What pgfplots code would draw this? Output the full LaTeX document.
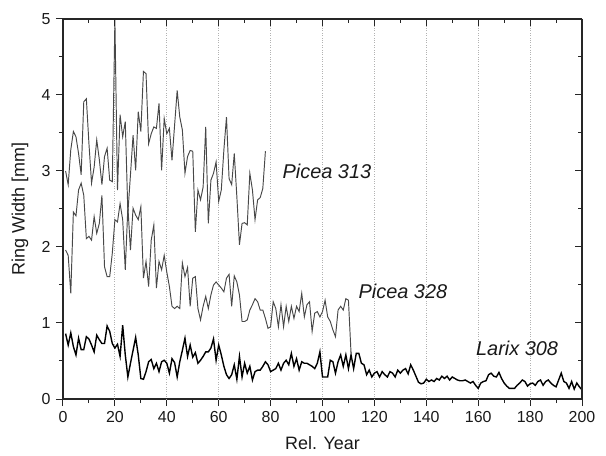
\documentclass[border=0pt]{standalone}
\usepackage{pgfplots}
\pgfplotsset{compat=1.18}
\usepackage{fontspec}
\setmainfont{Liberation Sans}
\definecolor{piceagray}{HTML}{484848}
\begin{document}
\begin{tikzpicture}
\pgfplotsset{
  base/.style={
    scale only axis, width=519bp, height=380bp,
    xmin=0, xmax=200, ymin=0, ymax=5,
    xtick={0,20,...,200}, minor x tick num=1,
    ytick={0,1,2,3,4,5}, minor y tick num=1,
    major tick length=7bp, minor tick length=4bp,
    axis line style={-, line width=1.2bp, black!85},
    every tick/.style={line width=1bp, black!85},
    /pgf/number format/assume math mode=true,
    tick label style={font=\fontsize{16}{17}\selectfont, black!90},
    clip=false,
  }
}
\begin{axis}[base,
  axis x line*=bottom, axis y line*=left, tick align=outside,
  extra x ticks={20,40,...,180}, extra x tick labels={},
  extra x tick style={grid=major, major tick length=0pt},
  grid style={dotted, black!30, line width=0.8bp},
  xlabel={Rel. Year}, ylabel={Ring Width [mm]},
  every axis x label/.style={at={(axis description cs:0.5,-0.1158)}, anchor=center, font=\fontsize{18}{20}\selectfont, black!90},
  every axis y label/.style={at={(axis description cs:-0.083,0.5)}, rotate=90, anchor=center, font=\fontsize{18}{20}\selectfont, black!90},
  xticklabel style={yshift=-2bp},
  yticklabel style={xshift=-2bp},
]
% Picea 313
\addplot[piceagray, line width=0.95bp] coordinates {
(1,3.00)(2,2.82)(3,3.28)(4,3.52)(5,3.45)(6,3.23)(7,2.95)(8,3.91)(9,3.95)(10,3.36)
(11,2.84)(12,3.05)(13,3.41)(14,3.15)(15,2.82)(16,3.19)(17,3.30)(18,2.88)(19,2.86)(20,4.99)
(21,2.75)(22,3.74)(23,3.45)(24,3.65)(25,2.45)(26,2.95)(27,3.47)(28,3.01)(29,3.78)(30,3.52)
(31,4.31)(32,4.28)(33,3.36)(34,3.49)(35,3.58)(36,3.56)(37,3.89)(38,3.01)(39,3.69)(40,3.49)
(41,3.56)(42,3.14)(43,3.60)(44,4.06)(45,3.71)(46,3.54)(47,2.97)(48,3.19)(49,3.27)(50,3.26)
(51,2.20)(52,2.75)(53,2.62)(54,2.79)(55,3.58)(56,2.31)(57,2.88)(58,2.97)(59,3.12)(60,2.60)
(61,2.75)(62,3.28)(63,3.71)(64,2.90)(65,2.82)(66,3.23)(67,2.66)(68,2.03)(69,2.31)(70,2.32)
(71,2.29)(72,2.97)(73,2.75)(74,2.36)(75,2.62)(76,2.65)(77,2.77)(78,3.26)
};
% Picea 328
\addplot[piceagray, line width=0.95bp] coordinates {
(1,1.96)(2,1.89)(3,1.39)(4,2.46)(5,2.41)(6,2.75)(7,2.84)(8,2.68)(9,2.11)(10,2.14)
(11,2.09)(12,2.40)(13,2.18)(14,2.31)(15,2.68)(16,1.74)(17,1.61)(18,1.61)(19,1.92)(20,2.36)
(21,2.33)(22,2.57)(23,2.36)(24,1.70)(25,2.53)(26,1.96)(27,2.51)(28,2.42)(29,2.36)(30,2.53)
(31,1.59)(32,1.81)(33,1.48)(34,2.09)(35,2.29)(36,1.46)(37,1.81)(38,1.70)(39,1.89)(40,1.67)
(41,1.48)(42,1.22)(43,1.19)(44,1.22)(45,1.19)(46,1.79)(47,1.61)(48,1.73)(49,1.22)(50,1.59)
(51,1.61)(52,1.19)(53,1.04)(54,1.22)(55,1.35)(56,1.19)(57,1.37)(58,1.50)(59,1.54)(60,1.50)
(61,1.46)(62,1.41)(63,1.59)(64,1.64)(65,1.22)(66,1.62)(67,1.54)(68,1.37)(69,1.02)(70,1.02)
(71,1.04)(72,1.17)(73,1.24)(74,1.32)(75,1.28)(76,1.17)(77,1.17)(78,1.06)(79,0.93)(80,0.95)
(81,1.28)(82,1.19)(83,0.95)(84,1.24)(85,0.95)(86,1.22)(87,1.02)(88,1.22)(89,1.06)(90,1.22)
(91,1.15)(92,1.39)(93,1.08)(94,1.24)(95,1.28)(96,0.89)(97,1.13)(98,1.15)(99,1.08)(100,1.15)
(101,1.30)(102,1.08)(103,1.02)(104,0.91)(105,0.82)(106,1.17)(107,1.22)(108,1.17)(109,1.32)(110,1.30)
(111,0.60)
};
% Larix 308
\addplot[black, line width=1.4bp] coordinates {
(1,0.86)(2,0.71)(3,0.87)(4,0.69)(5,0.58)(6,0.80)(7,0.65)(8,0.65)(9,0.82)(10,0.79)
(11,0.71)(12,0.62)(13,0.84)(14,0.78)(15,0.73)(16,0.73)(17,0.96)(18,0.89)(19,0.73)(20,0.67)
(21,0.72)(22,0.56)(23,0.97)(24,0.58)(25,0.29)(26,0.47)(27,0.64)(28,0.81)(29,0.58)(30,0.27)
(31,0.26)(32,0.36)(33,0.49)(34,0.52)(35,0.40)(36,0.47)(37,0.36)(38,0.49)(39,0.51)(40,0.47)
(41,0.34)(42,0.53)(43,0.48)(44,0.29)(45,0.49)(46,0.64)(47,0.80)(48,0.56)(49,0.71)(50,0.55)
(51,0.61)(52,0.47)(53,0.51)(54,0.56)(55,0.62)(56,0.62)(57,0.67)(58,0.79)(59,0.51)(60,0.71)
(61,0.58)(62,0.43)(63,0.32)(64,0.27)(65,0.32)(66,0.45)(67,0.26)(68,0.56)(69,0.29)(70,0.47)
(71,0.34)(72,0.43)(73,0.25)(74,0.36)(75,0.38)(76,0.38)(77,0.43)(78,0.49)(79,0.45)(80,0.36)
(81,0.38)(82,0.40)(83,0.47)(84,0.38)(85,0.47)(86,0.51)(87,0.45)(88,0.60)(89,0.43)(90,0.53)
(91,0.38)(92,0.49)(93,0.47)(94,0.47)(95,0.45)(96,0.43)(97,0.40)(98,0.47)(99,0.62)(100,0.29)
(101,0.29)(102,0.29)(103,0.51)(104,0.49)(105,0.34)(106,0.49)(107,0.58)(108,0.43)(109,0.58)(110,0.40)
(111,0.58)(112,0.40)(113,0.60)(114,0.60)(115,0.47)(116,0.45)(117,0.32)(118,0.38)(119,0.29)(120,0.34)
(121,0.36)(122,0.29)(123,0.36)(124,0.32)(125,0.29)(126,0.36)(127,0.34)(128,0.29)(129,0.38)(130,0.34)
(131,0.38)(132,0.40)(133,0.33)(134,0.45)(135,0.38)(136,0.30)(137,0.22)(138,0.20)(139,0.21)(140,0.26)
(141,0.23)(142,0.25)(143,0.23)(144,0.27)(145,0.25)(146,0.30)(147,0.27)(148,0.30)(149,0.25)(150,0.29)
(151,0.27)(152,0.25)(153,0.24)(154,0.24)(155,0.25)(156,0.23)(157,0.21)(158,0.23)(159,0.18)(160,0.14)
(161,0.21)(162,0.23)(163,0.24)(164,0.32)(165,0.34)(166,0.30)(167,0.29)(168,0.35)(169,0.27)(170,0.21)
(171,0.17)(172,0.14)(173,0.14)(174,0.14)(175,0.18)(176,0.21)(177,0.25)(178,0.23)(179,0.17)(180,0.20)
(181,0.21)(182,0.18)(183,0.23)(184,0.25)(185,0.18)(186,0.23)(187,0.25)(188,0.21)(189,0.18)(190,0.16)
(191,0.25)(192,0.34)(193,0.23)(194,0.21)(195,0.14)(196,0.23)(197,0.13)(198,0.21)(199,0.16)(200,0.12)
};
\node[font=\fontsize{20}{22}\selectfont\itshape, black!90] at (axis cs:101.7,2.99) {Picea 313};
\node[font=\fontsize{20}{22}\selectfont\itshape, black!90] at (axis cs:131,1.41) {Picea 328};
\node[font=\fontsize{20}{22}\selectfont\itshape, black!90] at (axis cs:175,0.67) {Larix 308};
\end{axis}
\begin{axis}[base,
  axis x line*=top, axis y line*=right, tick align=inside,
  xticklabels={}, yticklabels={},
]
\end{axis}
\pgfresetboundingbox
\path ([shift={(-63bp,-57bp)}]current axis.south west) rectangle ([shift={(24bp,19bp)}]current axis.north east);
\end{tikzpicture}
\end{document}
